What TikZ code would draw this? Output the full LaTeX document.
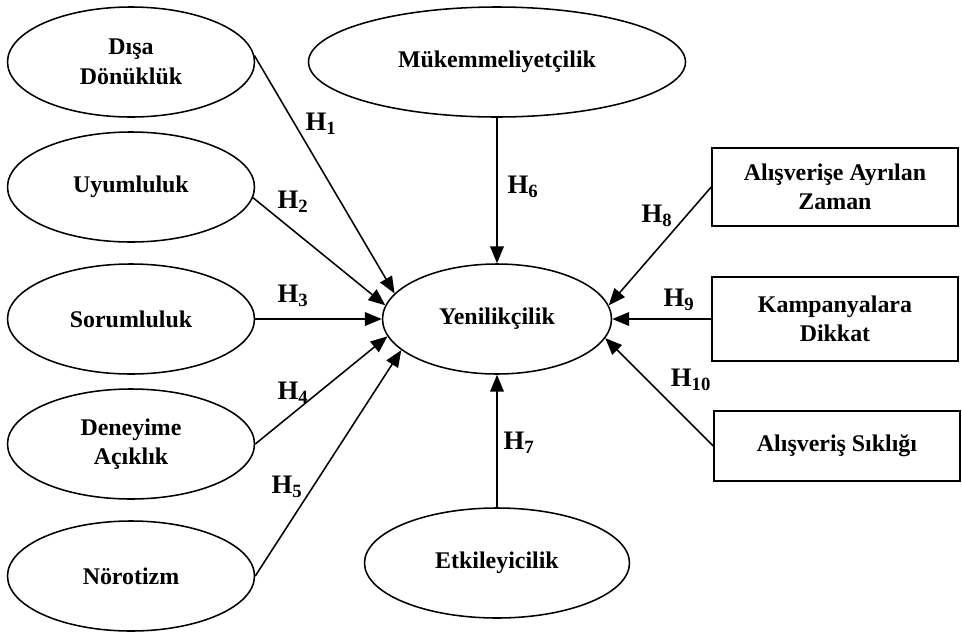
\documentclass[tikz,border=0pt]{standalone}
\usepackage{fontspec}
\setmainfont{Liberation Serif}
\usepackage{tikz}
\usetikzlibrary{positioning}
\usetikzlibrary{shapes.geometric,arrows.meta}
\tikzstyle{latent}=[ellipse,draw=black,line width=1.1pt,inner sep=0pt,align=center,font=\bfseries\fontsize{17}{21}\selectfont]
\tikzstyle{observed}=[rectangle,draw=black,line width=1.1pt,inner sep=0pt,align=center,font=\bfseries\fontsize{17}{21}\selectfont]
\tikzstyle{link} = [draw,line width=1.1pt,-{Triangle[length=0.42cm,width=0.34cm]}]
\tikzstyle{hyp} = [font=\bfseries\fontsize{19}{21}\selectfont,inner sep=0pt]

\begin{document}
\begin{tikzpicture}[auto,swap]

  \def\u{0.025};

  \useasboundingbox (0,0) rectangle (962*\u, -631*\u);

   % left column of ellipses
   \foreach \x/\y/\name/\label in {131/62/disa/{Dışa\\Dönüklük}, 131/187/uyum/Uyumluluk, 131/319/soru/Sorumluluk, 131/444/deney/{Deneyime\\Açıklık}, 131/576/noro/Nörotizm}
          \node[latent, minimum width=247*\u cm, minimum height=110*\u cm] (\name) at (\x*\u, -\y*\u) {\label};

   % middle column
   \node[latent, minimum width=377*\u cm, minimum height=110*\u cm] (muk) at (497*\u, -62*\u) {Mükemmeliyetçilik};
   \node[latent, minimum width=229*\u cm, minimum height=110*\u cm] (yen) at (497*\u, -319*\u) {Yenilikçilik};
   \node[latent, minimum width=265*\u cm, minimum height=110*\u cm] (etki) at (497*\u, -563*\u) {Etkileyicilik};

   % right column of boxes
   \foreach \x/\y/\h/\name/\label in {835/187/78/zaman/{Alışverişe Ayrılan\\Zaman}, 835/319/84/kamp/{Kampanyalara\\Dikkat}, 837/446/70/sik/{Alışveriş Sıklığı}}
          \node[observed, minimum width=246*\u cm, minimum height=\h*\u cm] (\name) at (\x*\u, -\y*\u) {\label};

  \foreach \source/ \dest in {disa.3/yen.166, uyum.-5/yen.173, soru.east/yen.180, deney.east/yen.189, noro.east/yen.198, muk.south/yen.north, etki.north/yen.south, zaman.west/yen.7, kamp.west/yen.0, sik.west/yen.-10}
         \path[link] (\source) -- (\dest);

   % hypothesis labels
   \foreach \x/\y/\name/\num in {321/124/h1/1, 293/202/h2/2, 293/296/h3/3, 293/393/h4/4, 287/487/h5/5, 523/187/h6/6, 519/443/h7/7, 657/216/h8/8, 679/300/h9/9, 691/380/h10/10}
          \node[hyp] (\name) at (\x*\u, -\y*\u) {H\textsubscript{\num}};

   \end{tikzpicture}
\end{document}
